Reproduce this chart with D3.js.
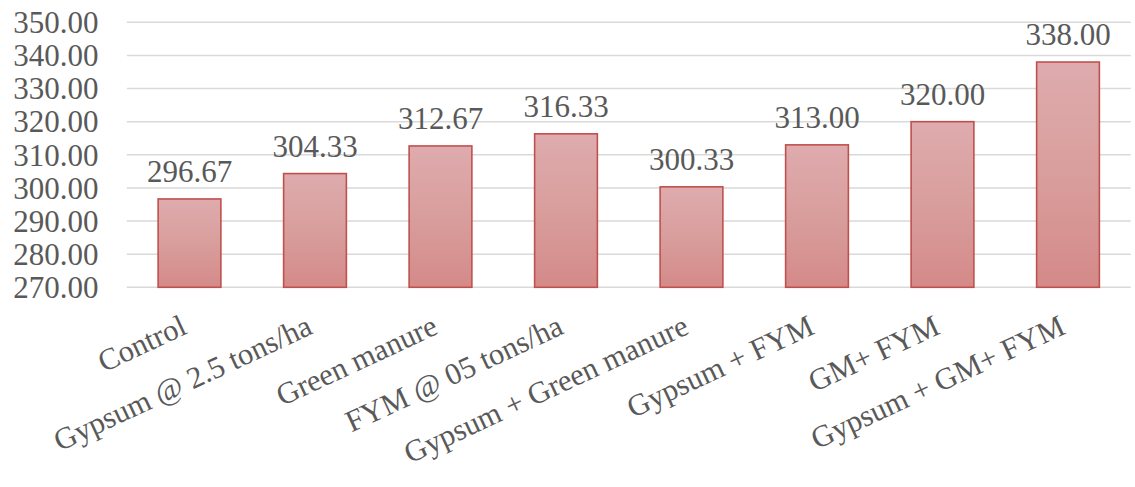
<!DOCTYPE html>
<html>
<head>
<meta charset="utf-8">
<script src="https://cdn.jsdelivr.net/npm/d3@7"></script>
<style>
  html, body { margin: 0; padding: 0; background: #ffffff; }
  svg { display: block; }
  svg text { font-family: "Liberation Serif", "Times New Roman", Times, "Noto Serif", "DejaVu Serif", FreeSerif, "Nimbus Roman", Tinos, serif; fill: #595959; }
</style>
</head>
<body>
<svg id="chart" width="1135" height="487"></svg>
<script>
// Treatments and their mean values
const categories = [
  "Control",
  "Gypsum @ 2.5 tons/ha",
  "Green manure",
  "FYM @ 05 tons/ha",
  "Gypsum + Green manure",
  "Gypsum + FYM",
  "GM+ FYM",
  "Gypsum + GM+ FYM"
];
const values = [296.67, 304.33, 312.67, 316.33, 300.33, 313.00, 320.00, 338.00];
const yTicks = [270, 280, 290, 300, 310, 320, 330, 340, 350];

const svg = d3.select("#chart");
const plot = { left: 126.75, right: 1130.75, top: 22.3, bottom: 287.3 };

const x = d3.scaleBand()
  .domain(categories)
  .range([plot.left, plot.right])
  .paddingInner(0.5)
  .paddingOuter(0.25);

const y = d3.scaleLinear()
  .domain([270, 350])
  .range([plot.bottom, plot.top]);

// Bar fill: soft vertical gradient
const defs = svg.append("defs");
const grad = defs.append("linearGradient")
  .attr("id", "barFill")
  .attr("x1", 0).attr("y1", 0).attr("x2", 0).attr("y2", 1);
grad.append("stop").attr("offset", "0%").attr("stop-color", "#dfabae");
grad.append("stop").attr("offset", "50%").attr("stop-color", "#d89e9c");
grad.append("stop").attr("offset", "100%").attr("stop-color", "#d48a89");

// Horizontal gridlines
svg.append("g")
  .selectAll("line")
  .data(yTicks)
  .join("line")
  .attr("x1", plot.left)
  .attr("x2", plot.right)
  .attr("y1", d => y(d))
  .attr("y2", d => y(d))
  .attr("stroke", "#d9d9d9")
  .attr("stroke-width", 1.4);

// Y axis labels
const yAxis = d3.axisLeft(y)
  .tickValues(yTicks)
  .tickFormat(d3.format(".2f"))
  .tickSize(0)
  .tickPadding(0);
const yg = svg.append("g")
  .attr("transform", `translate(98.5,0)`)
  .call(yAxis)
  .attr("font-family", null);
yg.select(".domain").remove();
yg.selectAll("text")
  .attr("font-size", 31)
  .attr("fill", "#595959")
  .attr("dy", "0.33em");

// Bars
svg.append("g")
  .selectAll("rect")
  .data(values)
  .join("rect")
  .attr("x", (d, i) => x(categories[i]))
  .attr("width", x.bandwidth())
  .attr("y", d => y(d))
  .attr("height", d => y(270) - y(d))
  .attr("fill", "url(#barFill)")
  .attr("stroke", "#c0504d")
  .attr("stroke-width", 1.6);

// Value labels above bars
svg.append("g")
  .selectAll("text")
  .data(values)
  .join("text")
  .attr("x", (d, i) => x(categories[i]) + x.bandwidth() / 2)
  .attr("y", d => y(d) - 17)
  .attr("text-anchor", "middle")
  .attr("font-size", 31)
  .text(d => d3.format(".2f")(d));

// Category labels, rotated
svg.append("g")
  .selectAll("text")
  .data(categories)
  .join("text")
  .attr("text-anchor", "end")
  .attr("font-size", 30.5)
  .attr("transform", d => `translate(${x(d) + x.bandwidth() / 2 - 1},333) rotate(-25)`)
  .text(d => d);
</script>
</body>
</html>
